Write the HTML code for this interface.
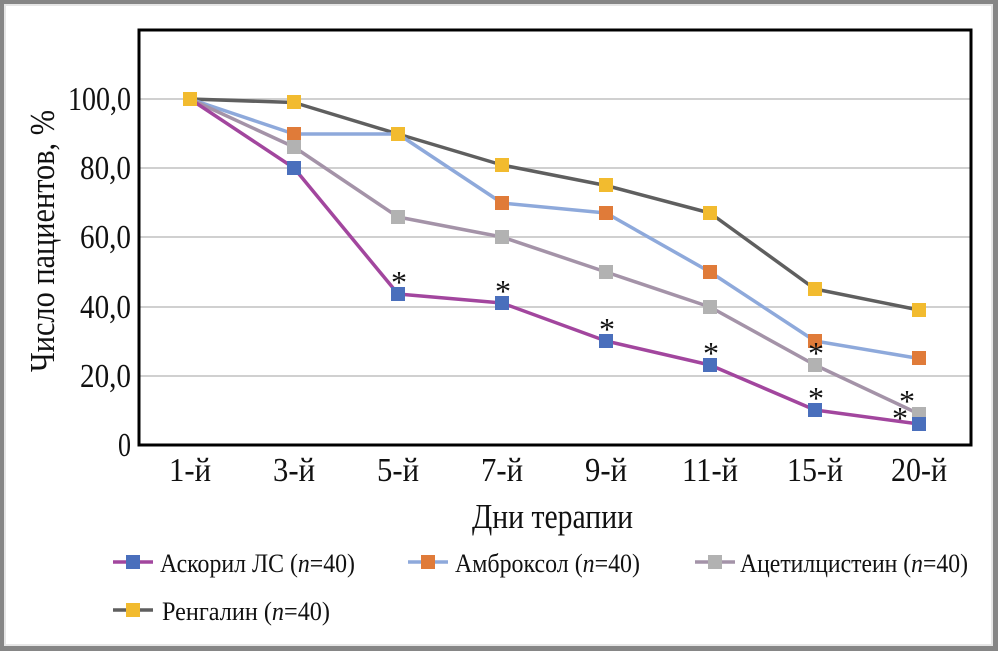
<!DOCTYPE html>
<html><head><meta charset="utf-8"><style>
html,body{margin:0;padding:0;background:#fff}
svg{display:block}
text{font-family:"Liberation Serif",serif;fill:#111}
</style></head><body>
<svg width="998" height="651" viewBox="0 0 998 651" xmlns="http://www.w3.org/2000/svg">
<rect x="0" y="0" width="998" height="651" fill="#868686"/>
<rect x="4" y="4" width="989" height="642" fill="#e6e6e6"/>
<rect x="6" y="6" width="985" height="638" fill="#fff"/>
<g stroke="#d0d0d0" stroke-width="2">
<line x1="139" y1="99" x2="971" y2="99"/>
<line x1="139" y1="168" x2="971" y2="168"/>
<line x1="139" y1="237" x2="971" y2="237"/>
<line x1="139" y1="307" x2="971" y2="307"/>
<line x1="139" y1="376" x2="971" y2="376"/>
</g>
<rect x="139" y="30" width="832" height="415" fill="none" stroke="#000" stroke-width="3"/>
<g font-size="34" text-anchor="end">
<text x="131" y="110" textLength="63" lengthAdjust="spacingAndGlyphs">100,0</text>
<text x="131" y="179" textLength="51" lengthAdjust="spacingAndGlyphs">80,0</text>
<text x="131" y="248" textLength="51" lengthAdjust="spacingAndGlyphs">60,0</text>
<text x="131" y="318" textLength="51" lengthAdjust="spacingAndGlyphs">40,0</text>
<text x="131" y="387" textLength="51" lengthAdjust="spacingAndGlyphs">20,0</text>
<text x="131" y="456" textLength="13" lengthAdjust="spacingAndGlyphs">0</text>
</g>
<g font-size="34" text-anchor="middle">
<text x="190" y="481" textLength="42" lengthAdjust="spacingAndGlyphs">1-й</text>
<text x="294" y="481" textLength="42" lengthAdjust="spacingAndGlyphs">3-й</text>
<text x="398" y="481" textLength="42" lengthAdjust="spacingAndGlyphs">5-й</text>
<text x="502" y="481" textLength="42" lengthAdjust="spacingAndGlyphs">7-й</text>
<text x="606" y="481" textLength="42" lengthAdjust="spacingAndGlyphs">9-й</text>
<text x="710" y="481" textLength="56" lengthAdjust="spacingAndGlyphs">11-й</text>
<text x="815" y="481" textLength="56" lengthAdjust="spacingAndGlyphs">15-й</text>
<text x="919" y="481" textLength="56" lengthAdjust="spacingAndGlyphs">20-й</text>
</g>
<text x="472" y="528" font-size="35" textLength="161" lengthAdjust="spacingAndGlyphs">Дни терапии</text>
<text transform="translate(54,372) rotate(-90)" font-size="35" textLength="262" lengthAdjust="spacingAndGlyphs">Число пациентов, %</text>
<g fill="none" stroke-width="3.5" stroke-linejoin="round">
<polyline stroke="#5f5f5f" points="190,99 294,102.5 398,134 502,165 606,185.5 710,213 815,289 919,310"/>
<polyline stroke="#8ea9db" points="190,99 294,134 398,134 502,203 606,213 710,272 815,341 919,358.5"/>
<polyline stroke="#a493a8" points="190,99 294,147 398,217 502,237 606,272 710,307 815,365 919,414"/>
<polyline stroke="#a2469e" points="190,99 294,168 398,294 502,303 606,341 710,365 815,410 919,424"/>
</g>
<g fill="#e07b39">
<rect x="287" y="127" width="14" height="14"/><rect x="391" y="127" width="14" height="14"/><rect x="495" y="196" width="14" height="14"/><rect x="599" y="206" width="14" height="14"/><rect x="703" y="265" width="14" height="14"/><rect x="808" y="334" width="14" height="14"/><rect x="912" y="351" width="14" height="14"/>
</g>
<g fill="#b2b2b2">
<rect x="287" y="140" width="14" height="14"/><rect x="391" y="210" width="14" height="14"/><rect x="495" y="230" width="14" height="14"/><rect x="599" y="265" width="14" height="14"/><rect x="703" y="300" width="14" height="14"/><rect x="808" y="358" width="14" height="14"/><rect x="912" y="407" width="14" height="14"/>
</g>
<g fill="#4a6fbc">
<rect x="287" y="161" width="14" height="14"/><rect x="391" y="287" width="14" height="14"/><rect x="495" y="296" width="14" height="14"/><rect x="599" y="334" width="14" height="14"/><rect x="703" y="358" width="14" height="14"/><rect x="808" y="403" width="14" height="14"/><rect x="912" y="417" width="14" height="14"/>
</g>
<g fill="#f2bb2f">
<rect x="183" y="92" width="14" height="14"/><rect x="287" y="95" width="14" height="14"/><rect x="391" y="127" width="14" height="14"/><rect x="495" y="158" width="14" height="14"/><rect x="599" y="178" width="14" height="14"/><rect x="703" y="206" width="14" height="14"/><rect x="808" y="282" width="14" height="14"/><rect x="912" y="303" width="14" height="14"/>
</g>
<g font-size="32" text-anchor="middle">
<text x="399" y="293">*</text>
<text x="503" y="302">*</text>
<text x="607" y="340">*</text>
<text x="711" y="364">*</text>
<text x="816" y="409">*</text>
<text x="816" y="364">*</text>
<text x="907" y="412">*</text>
<text x="900" y="429">*</text>
</g>
<g stroke-width="3.5">
<line x1="113" y1="562" x2="153" y2="562" stroke="#a2469e"/><rect x="126" y="555" width="14" height="14" fill="#4a6fbc"/>
<line x1="408" y1="562" x2="448" y2="562" stroke="#8ea9db"/><rect x="421" y="555" width="14" height="14" fill="#e07b39"/>
<line x1="695" y1="562" x2="735" y2="562" stroke="#a493a8"/><rect x="708" y="555" width="14" height="14" fill="#b2b2b2"/>
<line x1="113" y1="610" x2="153" y2="610" stroke="#5f5f5f"/><rect x="126" y="603" width="14" height="14" fill="#f2bb2f"/>
</g>
<g font-size="26">
<text x="160" y="572" textLength="195" lengthAdjust="spacingAndGlyphs">Аскорил ЛС (<tspan font-style="italic">n</tspan>=40)</text>
<text x="455" y="572" textLength="185" lengthAdjust="spacingAndGlyphs">Амброксол (<tspan font-style="italic">n</tspan>=40)</text>
<text x="740" y="572" textLength="228" lengthAdjust="spacingAndGlyphs">Ацетилцистеин (<tspan font-style="italic">n</tspan>=40)</text>
<text x="162" y="620" textLength="168" lengthAdjust="spacingAndGlyphs">Ренгалин (<tspan font-style="italic">n</tspan>=40)</text>
</g>
</svg>
</body></html>
